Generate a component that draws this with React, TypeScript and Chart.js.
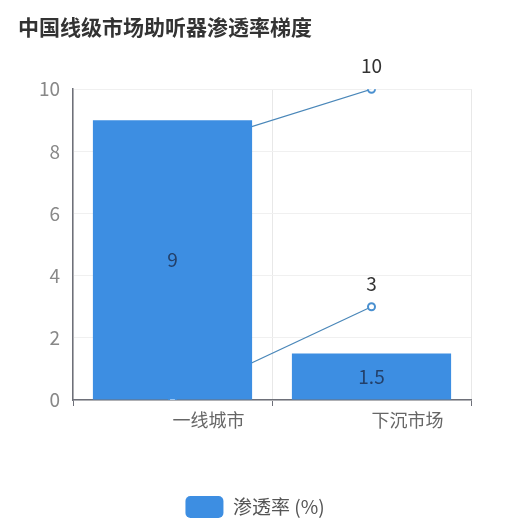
import React, { useEffect, useRef } from "react";
import { Chart, registerables } from "chart.js";

Chart.register(...registerables);

const TITLE = "中国线级市场助听器渗透率梯度";
const categories = ["一线城市", "下沉市场"];
const barLabel = "渗透率 (%)";
const barValues = [9, 1.5];
const lineUpper = [8, 10];
const lineLower = [0, 3];
const yTicks = [0, 2, 4, 6, 8, 10];

const BAR_COLOR = "#3d8ee2";
const LINE_COLOR = "#4a87b9";
const POINT_COLOR = "#4a90d0";
const FONT = '"Noto Sans CJK SC", "Noto Sans", sans-serif';

const valueLabels = {
  id: "valueLabels",
  afterDatasetDraw(chart: any, args: any) {
    const ctx = chart.ctx;
    const meta = args.meta;
    const ds = chart.data.datasets[args.index];
    ctx.save();
    ctx.font = `19px ${FONT}`;
    ctx.textAlign = "center";
    ctx.textBaseline = "middle";
    meta.data.forEach((el: any, i: number) => {
      const v = ds.data[i];
      if (meta.type === "bar") {
        ctx.fillStyle = "#23406a";
        ctx.fillText(String(v), el.x, (el.y + el.base) / 2);
      } else {
        ctx.fillStyle = "#333333";
        ctx.fillText(String(v), el.x, el.y - 23);
      }
    });
    ctx.restore();
  },
};

// centre the legend on the whole canvas rather than on the padded box
const legendCenter = {
  id: "legendCenter",
  afterLayout(chart: any) {
    const lg = chart.legend;
    if (!lg) return;
    const w = lg.right - lg.left;
    lg.left = (chart.width - w) / 2;
    lg.right = lg.left + w;
  },
};

export default function App() {
  const ref = useRef<HTMLCanvasElement | null>(null);
  useEffect(() => {
    if (!ref.current) return;
    const lineStyle = {
      type: "line" as const,
      borderColor: LINE_COLOR,
      borderWidth: 1.2,
      pointRadius: 3.5,
      pointBorderWidth: 2,
      pointBackgroundColor: "#ffffff",
      pointBorderColor: POINT_COLOR,
      fill: false,
      tension: 0,
      order: 1,
    };
    const chart = new Chart(ref.current, {
      type: "bar",
      data: {
        labels: categories,
        datasets: [
          {
            type: "bar",
            label: barLabel,
            data: barValues,
            backgroundColor: BAR_COLOR,
            barPercentage: 0.8,
            categoryPercentage: 1,
            order: 0,
          },
          { ...lineStyle, label: "upper", data: lineUpper },
          { ...lineStyle, label: "lower", data: lineLower },
        ] as any,
      },
      options: {
        animation: false,
        responsive: true,
        maintainAspectRatio: false,
        layout: { padding: { left: 18, right: 39, top: 0, bottom: 2 } },
        plugins: {
          title: {
            display: true,
            text: TITLE,
            align: "start",
            color: "#333333",
            font: { family: FONT, size: 21, weight: "bold" },
            padding: { top: 14, bottom: 50 },
          },
          legend: {
            position: "bottom",
            labels: {
              filter: (item: any) => item.datasetIndex === 0,
              boxWidth: 38,
              boxHeight: 22,
              useBorderRadius: true,
              borderRadius: 5,
              color: "#555555",
              font: { family: FONT, size: 19 },
              padding: 10,
            },
          },
          tooltip: { enabled: false },
        },
        scales: {
          x: {
            offset: true,
            grid: {
              offset: true,
              color: "#e8e8e8",
              tickColor: "#6e7079",
              tickLength: 6,
              drawTicks: true,
            },
            border: { color: "#6e7079", width: 1.5 },
            ticks: {
              align: "start",
              color: "#666666",
              font: { family: FONT, size: 18 },
              padding: 3,
            },
            afterFit: (scale: any) => {
              scale.height = 86;
            },
          },
          y: {
            min: 0,
            max: 10,
            afterBuildTicks: (scale: any) => {
              scale.ticks = yTicks.map((v) => ({ value: v }));
            },
            grid: { color: "#f0f0f0", drawTicks: false },
            border: { color: "#6e7079", width: 1.5 },
            ticks: {
              color: "#888888",
              font: { family: FONT, size: 19 },
              padding: 13,
            },
            afterFit: (scale: any) => {
              scale.width = 55;
            },
          },
        },
      },
      plugins: [valueLabels, legendCenter],
    });
    return () => chart.destroy();
  }, []);
  return (
    <div style={{ position: "fixed", left: 0, top: 0, width: 510, height: 530, background: "#fff" }}>
      <canvas ref={ref} />
    </div>
  );
}
